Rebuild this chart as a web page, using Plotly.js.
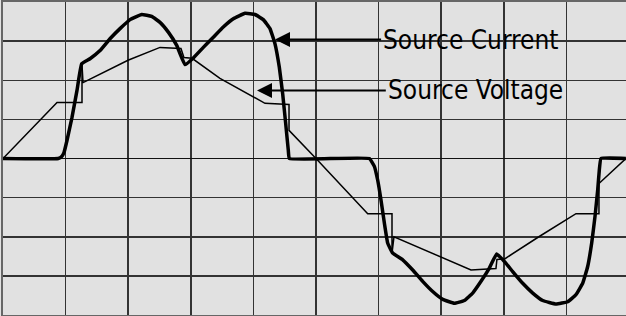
<!DOCTYPE html>
<html>
<head>
<meta charset="utf-8">
<script src="https://cdn.plot.ly/plotly-3.0.1.min.js"></script>
<style>html,body{margin:0;padding:0;background:#e1e1e1;}#chart{width:626px;height:316px;}</style>
</head>
<body>
<div id="chart"></div>
<script>
// x in grid divisions (10 per period), y in grid divisions (zero at centre)
const voltageX = [0, 0.863, 1.262, 1.262, 1.278, 1.997, 2.508, 2.843, 2.89, 3.02, 3.466, 4.01, 4.185, 4.569, 4.569, 5.0,
  5.826, 6.214, 6.214, 6.246, 6.997, 7.476, 7.875, 7.89, 8.02, 8.56, 9.153, 9.52, 9.52, 9.95];
const voltageY = [0, 1.43, 1.43, 2.40, 1.94, 2.51, 2.84, 2.81, 2.58, 2.56, 2.05, 1.56, 1.41, 1.38, 0.72, 0,
  -1.41, -1.41, -2.42, -2.0, -2.51, -2.85, -2.81, -2.58, -2.56, -2.0, -1.41, -1.41, -0.64, 0];

const currentX = [0, 0.883, 0.938, 0.974, 1.022, 1.102, 1.182, 1.257, 1.390, 1.550, 1.709, 1.869, 2.029, 2.216,
  2.375, 2.508, 2.641, 2.775, 2.907, 3.040, 3.200, 3.360, 3.519, 3.679, 3.866, 4.026, 4.158, 4.265, 4.345,
  4.414, 4.468, 4.516, 4.558, 4.574,
  5.852, 5.932, 5.985, 6.038, 6.092, 6.145, 6.225, 6.385, 6.545, 6.704, 6.864, 7.024, 7.209, 7.369, 7.503,
  7.636, 7.769, 7.886, 8.008, 8.142, 8.302, 8.462, 8.621, 8.834, 9.021, 9.153, 9.260, 9.340, 9.404, 9.457,
  9.500, 9.526, 9.553, 9.95];
const currentY = [0, 0, 0.05, 0.15, 0.46, 1.05, 1.74, 2.42, 2.55, 2.76, 3.06, 3.32, 3.55, 3.68,
  3.63, 3.48, 3.23, 2.89, 2.40, 2.57, 2.84, 3.10, 3.36, 3.57, 3.71, 3.68, 3.55, 3.32, 2.93,
  2.33, 1.65, 0.89, 0.20, 0,
  0, -0.20, -0.55, -1.06, -1.65, -2.16, -2.42, -2.59, -2.85, -3.14, -3.40, -3.60, -3.70, -3.63, -3.44,
  -3.14, -2.80, -2.44, -2.63, -2.89, -3.19, -3.44, -3.63, -3.72, -3.66, -3.48, -3.19, -2.76, -2.16, -1.48,
  -0.80, -0.29, 0, 0];

const labels = ["Source Current", "Source Voltage"];
const arrowTipX = [4.345, 4.058];
const arrowTipY = [3.04, 1.74];
const labelX = [6.04, 6.115];

const traces = [
  {x: voltageX, y: voltageY, mode: 'lines', line: {color: '#000', width: 1.5}, hoverinfo: 'skip'},
  {x: currentX, y: currentY, mode: 'lines', line: {color: '#000', width: 3.5, shape: 'spline', smoothing: 0.3}, hoverinfo: 'skip'}
];

const annotations = labels.map((t, i) => ({
  x: arrowTipX[i], y: arrowTipY[i], xref: 'x', yref: 'y',
  ax: labelX[i], ay: arrowTipY[i], axref: 'x', ayref: 'y',
  text: t, showarrow: true, arrowhead: 2, arrowsize: 1.5, arrowwidth: 2, arrowcolor: '#000',
  xanchor: 'left', yanchor: 'middle',
  font: {family: 'DejaVu Sans Condensed, Liberation Sans, sans-serif', size: 26, color: '#000'}
}));

const layout = {
  width: 626, height: 316,
  margin: {l: 3, r: 0, t: 2, b: 1, pad: 0},
  paper_bgcolor: '#e1e1e1', plot_bgcolor: '#e1e1e1',
  showlegend: false,
  xaxis: {range: [0, 9.952], dtick: 1, tick0: 0, showticklabels: false, ticks: '',
    showgrid: true, gridcolor: '#333', gridwidth: 1.5, zeroline: false,
    showline: true, linecolor: '#666', linewidth: 2, mirror: true},
  yaxis: {range: [-4, 4], dtick: 1, tick0: 0, showticklabels: false, ticks: '',
    showgrid: true, gridcolor: '#333', gridwidth: 1.5, zeroline: true, zerolinecolor: '#111', zerolinewidth: 1.5,
    showline: true, linecolor: '#666', linewidth: 2, mirror: true},
  annotations: annotations
};

Plotly.newPlot('chart', traces, layout, {staticPlot: true, displayModeBar: false});
</script>
</body>
</html>
